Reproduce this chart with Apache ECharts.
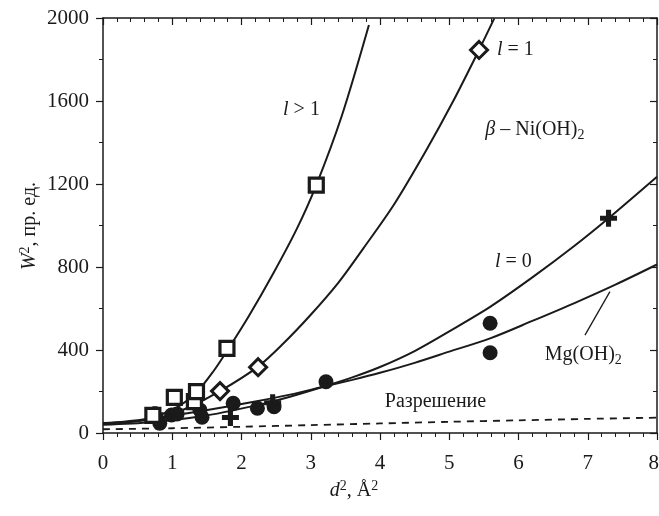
<!DOCTYPE html>
<html>
<head>
<meta charset="utf-8">
<script src="https://cdn.jsdelivr.net/npm/echarts@6/dist/echarts.min.js"></script>
<style>
html,body{margin:0;padding:0;background:#fff;}
#c{width:659px;height:516px;}
</style>
</head>
<body>
<div id="c"></div>
<script>
// ---- data ----
const xTicks = [0, 1, 2, 3, 4, 5, 6, 7, 8];
const yTicks = [0, 400, 800, 1200, 1600, 2000];

// fitted curves (sampled along the drawn lines)
const curveLgt1 = [[0,48],[0.5,58],[0.8,85],[1.1,130],[1.35,195],[1.6,300],[1.79,395],[2.1,560],[2.46,770],[2.8,985],[3.08,1195],[3.45,1530],[3.84,1966]];
const curveL1   = [[0,47],[0.8,70],[1.2,118],[1.69,202],[2.24,320],[2.6,430],[3.0,570],[3.4,725],[3.76,890],[4.2,1100],[4.67,1364],[5.05,1595],[5.43,1846],[5.65,1998]];
const curveL0   = [[0,40],[0.7,52],[1.4,79],[2.2,132],[2.7,175],[3.18,223],[3.6,268],[4.0,318],[4.5,395],[5.0,490],[5.59,608],[6.2,750],[6.8,900],[7.3,1035],[8,1235]];
const curveMg   = [[0,44],[0.7,70],[1.4,105],[2.2,152],[2.7,185],[3.18,223],[3.6,256],[4.0,290],[4.5,338],[5.0,392],[5.59,456],[6.2,540],[6.8,625],[7.4,715],[8,812]];
const curveRes  = [[0,18],[1,23],[2,30],[3,38],[4,46],[5,54],[6,61],[7,68],[8,74]];

// measured points
const squares  = [[0.72,85],[1.03,172],[1.32,151],[1.35,199],[1.79,408],[3.08,1195]];
const diamonds = [[1.69,202],[2.24,317],[5.43,1846]];
const crosses  = [[0.75,88],[1.84,75],[2.45,146],[7.30,1035]];
const circles  = [[0.73,80],[0.82,47],[0.99,87],[1.07,92],[1.40,111],[1.43,76],[1.88,143],[2.23,119],[2.47,127],[3.22,247],[5.59,529],[5.59,387]];

// ---- chart ----
const FONT = 'Liberation Serif';
const INK = '#1a1a1a';
const W = 659;
const chart = echarts.init(document.getElementById('c'), null, {renderer:'canvas'});

function axisCommon(pos, inside, min, max, interval, minorSplit) {
  return {
    type: 'value', position: pos, min: min, max: max, interval: interval,
    axisLine: {show: true, onZero: false, lineStyle: {color: INK, width: 1.5}},
    axisTick: {show: true, inside: inside, length: 7, lineStyle: {color: INK, width: 1.2}},
    minorTick: {show: true, splitNumber: minorSplit, length: 4, lineStyle: {color: INK, width: 1}},
    axisLabel: {show: false},
    splitLine: {show: false}, minorSplitLine: {show: false}
  };
}

function lineSeries(data, dashed) {
  return {
    type: 'line', data: data, xAxisIndex: 0, yAxisIndex: 0,
    smooth: 0.3, showSymbol: false, symbol: 'none', silent: true,
    lineStyle: {color: INK, width: dashed ? 1.8 : 2, type: dashed ? [7, 6] : 'solid'},
    z: 2
  };
}

const plusPath = 'path://M7,0H13V7H20V13H13V20H7V13H0V7H7Z';

const option = {
  animation: false,
  backgroundColor: '#fff',
  textStyle: {fontFamily: FONT},
  grid: {left: 103, right: 2, top: 18, bottom: 83, containLabel: false},
  xAxis: [
    axisCommon('bottom', false, xTicks[0], xTicks[xTicks.length-1], 1, 5),
    axisCommon('top', true, xTicks[0], xTicks[xTicks.length-1], 1, 5)
  ],
  yAxis: [
    axisCommon('left', false, yTicks[0], yTicks[yTicks.length-1], 400, 2),
    axisCommon('right', true, yTicks[0], yTicks[yTicks.length-1], 400, 2)
  ],
  series: [
    lineSeries(curveLgt1), lineSeries(curveL1), lineSeries(curveL0), lineSeries(curveMg),
    lineSeries(curveRes, true),
    {type:'scatter', data: circles, symbol:'circle', symbolSize: 15,
     itemStyle:{color: INK, opacity: 1}, z: 4},
    {type:'scatter', data: crosses, symbol: plusPath, symbolSize: 17,
     itemStyle:{color: INK, opacity: 1}, z: 4},
    {type:'scatter', data: squares, symbol:'rect', symbolSize: 14,
     itemStyle:{color:'#fff', borderColor: INK, borderWidth: 3.2, opacity: 1}, z: 5},
    {type:'scatter', data: diamonds, symbol:'diamond', symbolSize: 17,
     itemStyle:{color:'#fff', borderColor: INK, borderWidth: 3, opacity: 1}, z: 5}
  ]
};
chart.setOption(option);

// ---- annotations & tick labels (serif text) ----
const base = {fontFamily: FONT, fontSize: 20, fill: INK, lineHeight: 24};
const rich = {
  n: Object.assign({}, base),
  num: {fontFamily: FONT, fontSize: 21, fill: INK, lineHeight: 24},
  it: Object.assign({}, base, {fontStyle: 'italic'}),
  sup: {fontFamily: FONT, fontSize: 14, fill: INK, lineHeight: 14, verticalAlign: 'top'},
  sub: {fontFamily: FONT, fontSize: 14, fill: INK, lineHeight: 14, verticalAlign: 'bottom'}
};
function px(p) { return chart.convertToPixel({xAxisIndex: 0, yAxisIndex: 0}, p); }
function textAt(text, x, y, align, vAlign, rot) {
  const el = {type:'text', x: x, y: y, z: 10, silent: true,
    style: {text: text, rich: rich, fontFamily: FONT, fontSize: 20, fill: INK,
      textAlign: align || 'left', textVerticalAlign: vAlign || 'middle'}};
  if (rot) el.rotation = rot;
  return el;
}
function label(text, at, align) {
  const p = px(at);
  return textAt(text, p[0], p[1], align);
}
const g = [];
xTicks.forEach(function (v) {
  const p = px([v, yTicks[0]]);
  if (p[0] + 6 > W) {
    g.push(textAt('{num|' + v + '}', W, p[1] + 30, 'right', 'middle'));
  } else {
    g.push(textAt('{num|' + v + '}', p[0], p[1] + 30, 'center', 'middle'));
  }
});
yTicks.forEach(function (v) {
  const p = px([xTicks[0], v]);
  g.push(textAt('{num|' + v + '}', p[0] - 14, p[1], 'right', 'middle'));
});
const a = px([6.96, 472]), b = px([7.32, 681]);
g.push(
  label('{it|l}{n| > 1}', [2.60, 1557]),
  label('{it|l}{n| = 1}', [5.69, 1846]),
  label('{it|β}{n| – Ni(OH)}{sub|2}', [5.52, 1460]),
  label('{it|l}{n| = 0}', [5.66, 824]),
  label('{n|Mg(OH)}{sub|2}', [6.38, 376]),
  label('{n|Разрешение}', [4.07, 149]),
  {type:'line', z: 10, silent: true, shape:{x1: a[0], y1: a[1], x2: b[0], y2: b[1]},
   style:{stroke: INK, lineWidth: 1.3}},
  textAt('{it|d}{sup|2}{n|, Å}{sup|2}', 354, 491, 'center', 'middle'),
  textAt('{it|W}{sup|2}{n|, пр. ед.}', 30, 226, 'center', 'middle', Math.PI / 2)
);
chart.setOption({graphic: g});
</script>
</body>
</html>
